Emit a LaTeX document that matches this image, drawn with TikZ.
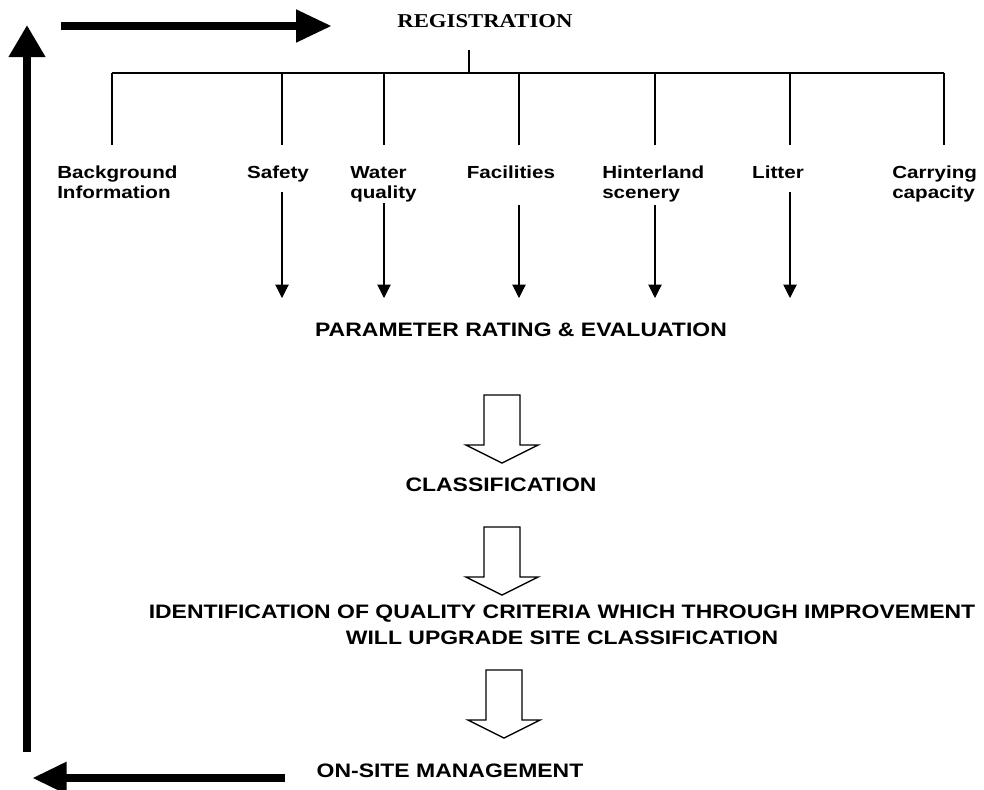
\documentclass[tikz,border=0pt]{standalone}
\usepackage{fontspec}
\setmainfont{Liberation Serif}
\newfontfamily\sansx[FakeStretch=1.18]{Liberation Sans}
\newfontfamily\serifx[FakeStretch=1.16]{Liberation Serif}
\usetikzlibrary{arrows.meta}
\begin{document}
\begin{tikzpicture}[x=0.75pt,y=-0.75pt,
  regfont/.style={font=\serifx\bfseries\fontsize{14.7}{17}\selectfont, inner sep=0pt},
  mainfont/.style={font=\sansx\bfseries\fontsize{14.6}{19.5}\selectfont, inner sep=0pt},
  labfont/.style={font=\sansx\bfseries\fontsize{13.1}{15}\selectfont, inner sep=0pt},
  treeline/.style={line width=1pt},
  thinarrow/.style={line width=0.8pt, -{Triangle[length=10pt,width=10pt]}},
  bigarrow/.style={line width=6.5pt},
  hollow/.pic={\draw[line width=1pt, fill=white, line join=miter]
     (-18,0) -- (18,0) -- (18,50) -- (36,50) -- (0,68) -- (-36,50) -- (-18,50) -- cycle;}
]
\useasboundingbox (0,0) rectangle (984,789);

% title
\node[regfont] (reg) at (485,21) {REGISTRATION};

% tree
\coordinate (stemtop) at (469,50);
\coordinate (bus) at (469,73);
\draw[treeline] (stemtop) -- (bus);
\draw[treeline] (112,73) -- (944,73);
\foreach \xx/\nm in {112/d1,282/d2,384/d3,519/d4,655/d5,790/d6,944/d7}{
  \coordinate (\nm t) at (\xx,73);
  \coordinate (\nm b) at (\xx,145);
  \draw[treeline] (\nm t) -- (\nm b);
}

% labels
\node[labfont, anchor=north west, align=left] (bg) at (57,166) {Background\\Information};
\node[labfont, anchor=north] (saf) at (278,166) {Safety};
\node[labfont, anchor=north west, align=left] (wq) at (350,166) {Water\\quality};
\node[labfont, anchor=north] (fac) at (511,166) {Facilities};
\node[labfont, anchor=north west, align=left] (hin) at (602,166) {Hinterland\\scenery};
\node[labfont, anchor=north] (lit) at (778,166) {Litter};
\node[labfont, anchor=north west, align=left] (car) at (892,166) {Carrying\\capacity};

% thin arrows
\foreach \xx/\ys/\nm in {282/192/a1,384/203/a2,519/205/a3,655/205/a4,790/192/a5}{
  \coordinate (\nm s) at (\xx,\ys);
  \coordinate (\nm e) at (\xx,298);
  \draw[thinarrow] (\nm s) -- (\nm e);
}

% main flow
\node[mainfont] (par) at (521,330) {PARAMETER RATING \& EVALUATION};
\pic at (502,395) {hollow};
\node[mainfont] (cls) at (501,485) {CLASSIFICATION};
\pic at (502,527) {hollow};
\node[mainfont, align=center] (idn) at (562,625)
  {IDENTIFICATION OF QUALITY CRITERIA WHICH THROUGH IMPROVEMENT\\WILL UPGRADE SITE CLASSIFICATION};
\pic at (504,670) {hollow};
\node[mainfont] (osm) at (450,771) {ON-SITE MANAGEMENT};

% big feedback arrows
\coordinate (ts) at (61,26);
\coordinate (te) at (332,26);
\draw[bigarrow, -{Triangle[length=27pt,width=23pt]}] (ts) -- (te);
\coordinate (vs) at (27,752);
\coordinate (ve) at (27,25);
\draw[bigarrow, -{Triangle[length=24pt,width=26pt]}] (vs) -- (ve);
\coordinate (bs) at (285,778);
\coordinate (be) at (32,778);
\draw[bigarrow, -{Triangle[length=26pt,width=22.5pt]}] (bs) -- (be);
\end{tikzpicture}
\end{document}
